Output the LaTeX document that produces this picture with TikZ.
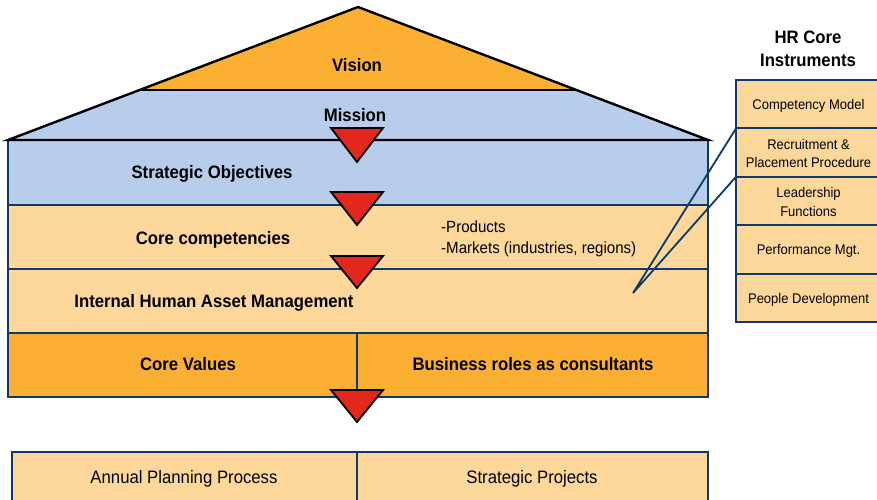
\documentclass[tikz,border=0pt]{standalone}
\usepackage{fontspec}
\setmainfont{Liberation Sans}[FakeStretch=0.93]
\definecolor{orng}{HTML}{FBB034}
\definecolor{lorng}{HTML}{FED89B}
\definecolor{lblue}{HTML}{B8CDEB}
\definecolor{redt}{HTML}{E2281D}
\definecolor{dblue}{HTML}{0D3A66}
\begin{document}
\begin{tikzpicture}[x=1pt,y=-1pt,
  band/.style={draw=dblue, line width=2pt, anchor=north west, inner sep=0pt, outer sep=0pt},
  big/.style={font=\fontsize{18}{21}\selectfont\bfseries, inner sep=0pt},
  reg/.style={font=\fontsize{18}{21}\selectfont, inner sep=0pt},
  small/.style={font=\fontsize{14}{18.5}\selectfont, inner sep=0pt, align=center},
  hrrow/.style={band, fill=lorng, minimum width=145pt, minimum height=48.4pt},
  redtri/.style={fill=redt, draw=black, line width=1.8pt, line join=miter},
  conn/.style={draw=dblue, line width=1.8pt},
  roof/.style={draw=black, line width=2.4pt, line join=miter}]
\useasboundingbox (0,0) rectangle (877,499);
\clip (0,0) rectangle (877,499);
% main bands
\node[band, fill=lblue, minimum width=700pt, minimum height=65pt] (strat) at (8,140) {};
\node[band, fill=lorng, minimum width=700pt, minimum height=64pt] (comp) at (8,205) {};
\node[band, fill=lorng, minimum width=700pt, minimum height=64pt] (iham) at (8,269) {};
\node[band, fill=orng, minimum width=349pt, minimum height=64pt] (vals) at (8,333) {};
\node[band, fill=orng, minimum width=351pt, minimum height=64pt] (roles) at (357,333) {};
\node[band, fill=lorng, minimum width=345pt, minimum height=60pt] (plan) at (12,452) {};
\node[band, fill=lorng, minimum width=351pt, minimum height=60pt] (proj) at (357,452) {};
% roof
\coordinate (apex) at (358,7);
\coordinate (vl) at (140,90);
\coordinate (vr) at (576,90);
\coordinate (rl) at (8,140);
\coordinate (rr) at (708,140);
\fill[orng] (apex) -- (vr) -- (vl) -- cycle;
\fill[lblue] (vl) -- (vr) -- (rr) -- (rl) -- cycle;
\draw[roof] (rl) -- (apex) -- (rr) -- cycle;
\draw[roof] (vl) -- (vr);
% texts
\node[big] (tvision) at (357,65) {Vision};
\node[big] (tmission) at (355,115) {Mission};
\node[big] (tstrat) at (212,174) {Strategic Objectives};
\node[big] (tcomp) at (213,240) {Core competencies};
\node[big] (tiham) at (214,303) {Internal Human Asset Management};
\node[big] (tvals) at (188,364) {Core Values};
\node[big] (troles) at (533,364) {Business roles as consultants};
\node[reg] (tplan) at (184,479) {Annual Planning Process};
\node[reg] (tproj) at (532,479) {Strategic Projects};
\node[font=\fontsize{16.2}{21}\selectfont, inner sep=0pt, align=left, anchor=west] (tprod) at (441,239) {-Products\\-Markets (industries, regions)};
% red triangles
\draw[redtri] (331,128) -- (383,128) -- (357,162) -- cycle;
\draw[redtri] (331,192) -- (383,192) -- (357,225) -- cycle;
\draw[redtri] (331,256) -- (383,256) -- (357,288) -- cycle;
\draw[redtri] (331,390) -- (383,390) -- (357,422) -- cycle;
% HR core instruments
\node[font=\fontsize{18}{23}\selectfont\bfseries, align=center, inner sep=0pt] (hrtitle) at (808,48.5) {HR Core\\Instruments};
\node[hrrow] (r1) at (736,80) {};
\node[hrrow] (r2) at (736,128.4) {};
\node[hrrow] (r3) at (736,176.8) {};
\node[hrrow] (r4) at (736,225.2) {};
\node[hrrow] (r5) at (736,273.6) {};
\node[small] (t1) at (808.5,105.5) {Competency Model};
\node[small] (t2) at (808.5,153.5) {Recruitment \&\\Placement Procedure};
\node[small] (t3) at (808.5,202) {Leadership\\Functions};
\node[small] (t4) at (808.5,251) {Performance Mgt.};
\node[small] (t5) at (808.5,299.5) {People Development};
% connectors
\coordinate (pt) at (633,293);
\draw[conn] (r2.north west) -- (pt) -- (r3.north west);
\end{tikzpicture}
\end{document}
